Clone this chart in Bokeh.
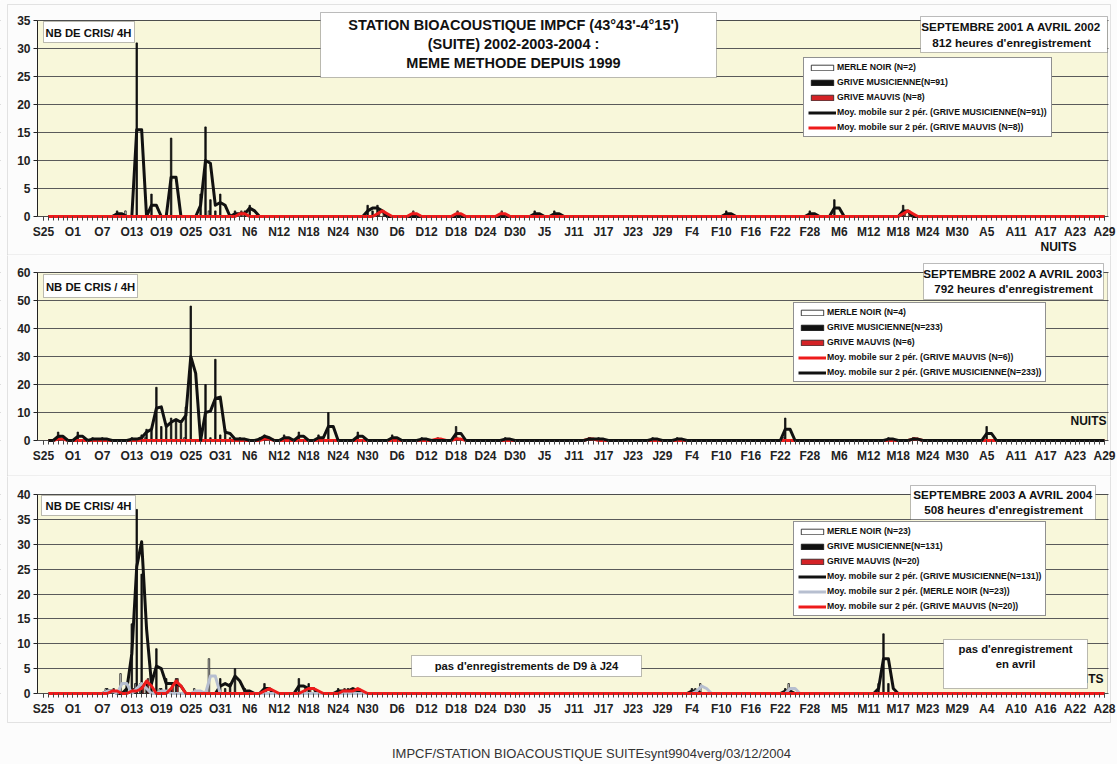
import numpy as np
import pandas as pd
from bokeh.plotting import figure
from bokeh.models import (FixedTicker, Legend, LegendItem, Label, BoxAnnotation,
                          ColumnDataSource)
from bokeh.transform import dodge
from bokeh.layouts import column
from bokeh.embed import file_html
from bokeh.resources import INLINE

FONT = "Liberation Sans"

# nights counted from S25 (0) to end of April (216)
nights = list(range(217))

labels_2001 = ["S25", "O1", "O7", "O13", "O19", "O25", "O31", "N6", "N12", "N18", "N24", "N30",
               "D6", "D12", "D18", "D24", "D30", "J5", "J11", "J17", "J23", "J29", "F4", "F10",
               "F16", "F22", "F28", "M6", "M12", "M18", "M24", "M30", "A5", "A11", "A17", "A23", "A29"]
labels_2002 = ["S25", "O1", "O7", "O13", "O19", "O25", "O31", "N6", "N12", "N18", "N24", "N30",
               "D6", "D12", "D18", "D24", "D30", "J5", "J11", "J17", "J23", "J29", "F4", "F10",
               "F16", "F22", "F28", "M6", "M12", "M18", "M24", "M30", "A5", "A11", "A17", "A23", "A29"]
labels_2003 = ["S25", "O1", "O7", "O13", "O19", "O25", "O31", "N6", "N12", "N18", "N24", "N30",
               "D6", "D12", "D18", "D24", "D30", "J5", "J11", "J17", "J23", "J29", "F4", "F10",
               "F16", "F22", "F28", "M5", "M11", "M17", "M23", "M29", "A4", "A10", "A16", "A22", "A28"]

# ---- 2001-2002 (nights with calls, calls / 4h) ----
merle_2001_n = [17, 34]
merle_2001_v = [1, 1]
musicienne_2001_n = [15, 19, 22, 26, 32, 33, 34, 35, 36, 39, 41, 42, 66, 67, 68, 100, 104, 139, 156, 161, 175]
musicienne_2001_v = [1, 31, 4, 14, 4, 16, 3, 1, 4, 1, 1, 2, 2, 1, 2, 1, 1, 1, 1, 3, 2]
mauvis_2001_n = [40, 68, 69, 75, 84, 93, 175, 176]
mauvis_2001_v = [1, 1, 1, 1, 1, 1, 1, 1]

# ---- 2002-2003 ----
merle_2002_n = [21, 29, 52, 151]
merle_2002_v = [1, 1, 1, 1]
musicienne_2002_n = [3, 7, 10, 12, 18, 20, 21, 22, 23, 24, 25, 26, 27, 28, 29, 30, 33, 34, 35, 36,
                     37, 38, 40, 44, 45, 49, 52, 56, 58, 64, 71, 77, 84, 94, 111, 113, 124, 129,
                     151, 172, 177, 192]
musicienne_2002_v = [3, 3, 1, 1, 1, 2, 4, 4, 19, 5, 5, 8, 7, 6, 12, 48, 20, 1, 29, 2,
                     4, 1, 1, 1, 2, 2, 3, 2, 10, 3, 2, 1, 5, 1, 1, 1, 1, 1,
                     8, 1, 1, 5]
mauvis_2002_n = [3, 45, 80, 84, 111, 177]
mauvis_2002_v = [1, 1, 1, 1, 1, 1]

# ---- 2003-2004 ----
merle_2003_n = [13, 16, 19, 20, 24, 31, 34, 133, 134, 152]
merle_2003_v = [1, 4, 2, 2, 1, 1, 7, 1, 2, 2]
musicienne_2003_n = [13, 17, 18, 19, 20, 21, 22, 23, 24, 25, 26, 27, 36, 37, 38, 39, 41, 45, 52, 54,
                     60, 62, 63, 132, 151, 170, 171, 172]
musicienne_2003_v = [1, 2, 14, 37, 24, 2, 2, 9, 1, 3, 1, 3, 3, 1, 2, 5, 1, 2, 3, 2,
                     1, 1, 1, 1, 1, 2, 12, 2]
mauvis_2003_n = [14, 18, 20, 21, 26, 27, 45, 46, 53, 54, 55, 61, 63, 64]
mauvis_2003_v = [1, 1, 2, 3, 2, 3, 1, 1, 1, 1, 1, 1, 1, 1]

YELLOW = "#f8f7da"
PAGE = "#fcfcfc"
RED_BAR = "#d42226"
RED_LINE = "#ee1b1b"
GREY_LINE = "#b7bfd0"

# page layout (pixels)
W = 1117
PLOT_L, PLOT_R = 37, 1107          # plot-area edges
X_LO, X_HI = -1.2, 216.6           # category extent of the plot area


def moving_avg(n, v):
    dense = np.zeros(len(nights))
    dense[n] = v
    return pd.Series(dense).rolling(2).mean().to_numpy()[1:]


class Panel:
    def __init__(self, fig_top, fig_h, y_top_px, y0_px, ymax, ystep, labels):
        self.top, self.h = fig_top, fig_h
        self.bottom = fig_top + fig_h
        kx = (PLOT_R - PLOT_L) / (X_HI - X_LO)
        ky = (y0_px - y_top_px) / ymax
        xr = (X_LO - PLOT_L / kx, X_HI + (W - PLOT_R) / kx)
        yr = (-(self.bottom - y0_px) / ky, ymax + (y_top_px - fig_top) / ky)
        p = figure(width=W, height=fig_h, x_range=xr, y_range=yr,
                   output_backend="svg", toolbar_location=None, min_border=0,
                   min_border_left=0, min_border_right=0, min_border_top=0, min_border_bottom=0,
                   background_fill_color=PAGE, border_fill_color=PAGE,
                   outline_line_color=None)
        self.p = p
        # plot area
        p.add_layout(BoxAnnotation(left=X_LO, right=X_HI, bottom=0, top=ymax,
                                   fill_color=YELLOW, fill_alpha=1, line_color=None,
                                   level="image"))
        # axes
        p.xaxis.fixed_location = 0
        p.yaxis.fixed_location = X_LO
        p.yaxis.bounds = (0, ymax)
        p.xaxis.ticker = FixedTicker(ticks=list(range(0, 217, 6)), minor_ticks=nights)
        p.xaxis.major_label_overrides = {i * 6: lab for i, lab in enumerate(labels)}
        p.xaxis.axis_line_color = None
        p.xaxis.major_tick_in = 0
        p.xaxis.major_tick_out = 4
        p.xaxis.minor_tick_in = 0
        p.xaxis.minor_tick_out = 4
        p.xaxis.major_tick_line_color = "#444444"
        p.xaxis.minor_tick_line_color = "#444444"
        p.xaxis.major_label_standoff = 4
        p.yaxis.ticker = FixedTicker(ticks=list(range(0, ymax + 1, ystep)))
        p.yaxis.minor_tick_line_color = None
        p.yaxis.major_tick_in = 0
        p.yaxis.major_tick_out = 4
        p.yaxis.axis_line_color = "#222222"
        p.yaxis.major_tick_line_color = "#222222"
        p.yaxis.major_label_standoff = 3
        for ax in (p.xaxis, p.yaxis):
            ax.major_label_text_font = FONT
            ax.major_label_text_font_style = "bold"
            ax.major_label_text_font_size = "12px"
            ax.major_label_text_color = "#222222"
        p.xgrid.grid_line_color = None
        p.ygrid.grid_line_color = "#5a5a5a"
        p.ygrid.grid_line_width = 1
        # hide grid lines outside the plot area
        for l, r in ((0, PLOT_L), (PLOT_R + 1, W)):
            p.add_layout(BoxAnnotation(left=l, right=r, bottom=0, top=fig_h,
                                       left_units="screen", right_units="screen",
                                       top_units="screen", bottom_units="screen",
                                       fill_color=PAGE, fill_alpha=1, line_color=None,
                                       level="underlay"))
        # plot area outline
        p.add_layout(BoxAnnotation(left=X_LO, right=X_HI, bottom=0, top=ymax,
                                   fill_alpha=0, line_color="#333333", line_width=1,
                                   level="underlay"))

    def sx(self, x):
        return x

    def sy(self, y):
        return self.bottom - y

    def bars(self, merle, mus, mauvis):
        rs = []
        for (n, v), off, fill, line in ((merle, -0.3, "white", "#111111"),
                                        (mus, 0.0, "#111111", "#111111"),
                                        (mauvis, 0.3, RED_BAR, "#222222")):
            src = ColumnDataSource(dict(x=n, top=v))
            rs.append(self.p.vbar(x=dodge("x", off, range=self.p.x_range), top="top", width=0.3,
                                  source=src, fill_color=fill, line_color=line, line_width=0.8))
        return rs

    def ma(self, n, v, color):
        return self.p.line(x=nights[1:], y=moving_avg(n, v), line_width=3, line_color=color,
                           line_join="round")

    def box(self, x0, y0, x1, y1, fill="white", line="#222222", level="annotation"):
        self.p.add_layout(BoxAnnotation(left=self.sx(x0), right=self.sx(x1),
                                        top=self.sy(y0), bottom=self.sy(y1),
                                        left_units="screen", right_units="screen",
                                        top_units="screen", bottom_units="screen",
                                        fill_color=fill, fill_alpha=1 if fill else 0,
                                        line_color=line, line_width=1, level=level))

    def text(self, x, y, s, size="11.3px", style="bold", align="center", color="#111111"):
        self.p.add_layout(Label(x=self.sx(x), y=self.sy(y), x_units="screen", y_units="screen",
                                text=s, text_font=FONT, text_font_size=size,
                                text_font_style=style, text_align=align,
                                text_baseline="middle", text_color=color))

    def legend(self, x0, y1, items, spacing):
        leg = Legend(items=[LegendItem(label=lab, renderers=[r]) for lab, r in items],
                     location=(self.sx(x0), self.sy(y1)), margin=0, padding=4, spacing=spacing,
                     glyph_width=28, glyph_height=7, label_height=10, label_standoff=1,
                     label_text_font=FONT, label_text_font_size="8.7px",
                     label_text_font_style="bold", label_text_color="#111111",
                     border_line_color="#222222", border_line_width=1,
                     background_fill_color="white", background_fill_alpha=1)
        self.p.add_layout(leg)


# ================= Panel 1 : 2001-2002 =================
P1 = Panel(0, 255, 20, 216, 35, 5, labels_2001)
P1.box(7, 4, 1110, 254.5, fill=None, line="#a6a6a6", level="underlay")
b_mer1, b_mus1, b_mau1 = P1.bars((merle_2001_n, merle_2001_v),
                                 (musicienne_2001_n, musicienne_2001_v),
                                 (mauvis_2001_n, mauvis_2001_v))
l_mus1 = P1.ma(musicienne_2001_n, musicienne_2001_v, "#111111")
l_mau1 = P1.ma(mauvis_2001_n, mauvis_2001_v, RED_LINE)
P1.text(1058, 246, "NUITS", size="12px")
P1.box(320, 12, 716, 77)
P1.text(513, 24, "STATION BIOACOUSTIQUE IMPCF (43°43'-4°15')", size="14.5px")
P1.text(513, 43, "(SUITE) 2002-2003-2004 :", size="14.5px")
P1.text(513, 62, "MEME METHODE DEPUIS 1999", size="14.5px")
P1.box(920, 16, 1107, 52)
P1.text(1011, 26, "SEPTEMBRE 2001 A AVRIL 2002", size="11.7px")
P1.text(1011, 42, "812 heures d'enregistrement", size="11.7px")
P1.box(43, 21, 134, 42)
P1.text(88, 32, "NB DE CRIS/ 4H")
P1.legend(803, 137, [
    ("MERLE NOIR (N=2)", b_mer1),
    ("GRIVE MUSICIENNE(N=91)", b_mus1),
    ("GRIVE MAUVIS (N=8)", b_mau1),
    ("Moy. mobile sur 2 pér. (GRIVE MUSICIENNE(N=91))", l_mus1),
    ("Moy. mobile sur 2 pér. (GRIVE MAUVIS (N=8))", l_mau1),
], 5)

# ================= Panel 2 : 2002-2003 =================
P2 = Panel(255, 221, 272, 440, 60, 10, labels_2002)
P2.box(7, 253, 1110, 475.5, fill=None, line="#a6a6a6", level="underlay")
b_mer2, b_mus2, b_mau2 = P2.bars((merle_2002_n, merle_2002_v),
                                 (musicienne_2002_n, musicienne_2002_v),
                                 (mauvis_2002_n, mauvis_2002_v))
l_mau2 = P2.ma(mauvis_2002_n, mauvis_2002_v, RED_LINE)
l_mus2 = P2.ma(musicienne_2002_n, musicienne_2002_v, "#111111")
P2.text(1088, 420, "NUITS", size="12px")
P2.box(923, 263, 1103, 299)
P2.text(1013, 273, "SEPTEMBRE 2002 A AVRIL 2003", size="11.7px")
P2.text(1013, 288, "792 heures d'enregistrement", size="11.7px")
P2.box(43, 274, 137, 297)
P2.text(90, 286, "NB DE CRIS / 4H")
P2.legend(793, 382, [
    ("MERLE NOIR (N=4)", b_mer2),
    ("GRIVE MUSICIENNE(N=233)", b_mus2),
    ("GRIVE MAUVIS (N=6)", b_mau2),
    ("Moy. mobile sur 2 pér. (GRIVE MAUVIS (N=6))", l_mau2),
    ("Moy. mobile sur 2 pér. (GRIVE MUSICIENNE(N=233))", l_mus2),
], 5)

# ================= Panel 3 : 2003-2004 =================
P3 = Panel(476, 288, 494, 693, 40, 5, labels_2003)
P3.box(7, 474, 1110, 722, fill=None, line="#a6a6a6", level="underlay")
b_mer3, b_mus3, b_mau3 = P3.bars((merle_2003_n, merle_2003_v),
                                 (musicienne_2003_n, musicienne_2003_v),
                                 (mauvis_2003_n, mauvis_2003_v))
l_mus3 = P3.ma(musicienne_2003_n, musicienne_2003_v, "#111111")
l_mer3 = P3.ma(merle_2003_n, merle_2003_v, GREY_LINE)
l_mau3 = P3.ma(mauvis_2003_n, mauvis_2003_v, RED_LINE)
P3.text(1103, 678, "NUITS", size="12px", align="right")
P3.box(943, 639, 1087, 688)
P3.text(1015, 648, "pas d'enregistrement")
P3.text(1015, 663, "en avril")
P3.box(411, 655, 641, 676)
P3.text(526, 665, "pas d'enregistrements de D9 à J24", size="11.2px")
P3.box(910, 485, 1095, 519)
P3.text(1003, 494, "SEPTEMBRE 2003 A AVRIL 2004", size="11.7px")
P3.text(1003, 509, "508 heures d'enregistrement", size="11.7px")
P3.box(41, 495, 135, 515)
P3.text(88, 505, "NB DE CRIS/ 4H")
P3.legend(793, 616, [
    ("MERLE NOIR (N=23)", b_mer3),
    ("GRIVE MUSICIENNE(N=131)", b_mus3),
    ("GRIVE MAUVIS (N=20)", b_mau3),
    ("Moy. mobile sur 2 pér. (GRIVE MUSICIENNE(N=131))", l_mus3),
    ("Moy. mobile sur 2 pér. (MERLE NOIR (N=23))", l_mer3),
    ("Moy. mobile sur 2 pér. (GRIVE MAUVIS (N=20))", l_mau3),
], 5)
P3.text(591, 753, "IMPCF/STATION BIOACOUSTIQUE SUITEsynt9904verg/03/12/2004",
        size="13px", style="normal", color="#333333")

layout = column(P1.p, P2.p, P3.p, spacing=0)
open("out.html", "w").write(file_html(layout, INLINE))
